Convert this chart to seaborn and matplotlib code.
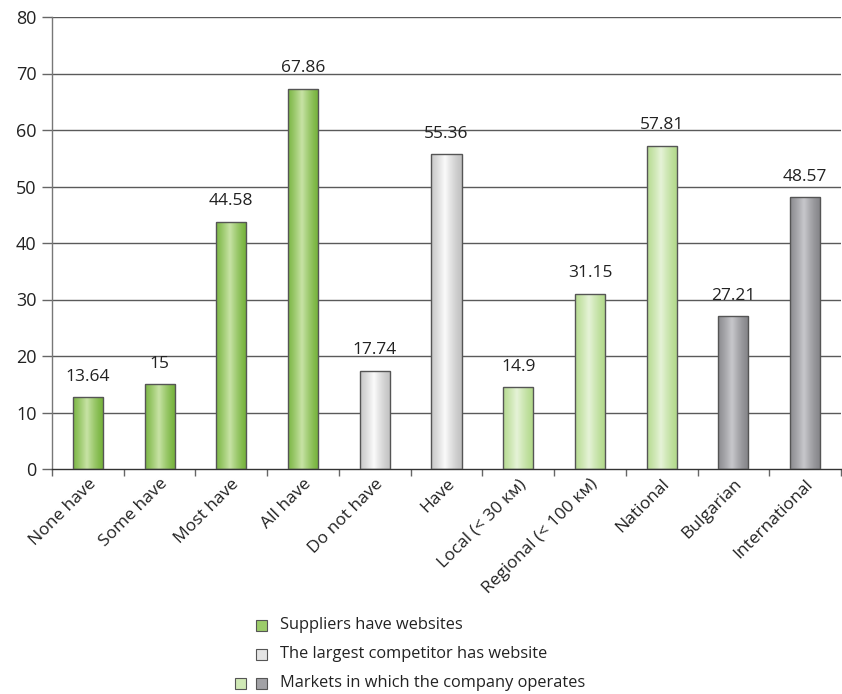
import matplotlib
matplotlib.use('Agg')
import matplotlib.pyplot as plt
from matplotlib.patches import Rectangle
import seaborn as sns
import pandas as pd
import numpy as np

categories = ['None have', 'Some have', 'Most have', 'All have', 'Do not have', 'Have',
              'Local (< 30 км)', 'Regional (< 100 км)', 'National', 'Bulgarian', 'International']
# bar heights as drawn in the picture
bar_values = [12.7, 15.0, 43.8, 67.3, 17.4, 55.75, 14.5, 31.0, 57.2, 27.0, 48.1]
# value labels printed over the bars
value_labels = ['13.64', '15', '44.58', '67.86', '17.74', '55.36', '14.9', '31.15', '57.81', '27.21', '48.57']
groups = ['suppliers'] * 4 + ['competitor'] * 2 + ['market_local'] * 3 + ['market_foreign'] * 2
legend_labels = ['Suppliers have websites', 'The largest competitor has website',
                 'Markets in which the company operates']

df = pd.DataFrame({'category': categories, 'value': bar_values, 'group': groups})

# (edge colour, highlight colour) for the cylinder-like gradient
grad = {
    'suppliers': ('#74b23a', '#c8e3a6'),
    'competitor': ('#c2c2c2', '#fbfbfb'),
    'market_local': ('#b2d98a', '#e6f3d8'),
    'market_foreign': ('#848488', '#c8c8cc'),
}
flat = {
    'suppliers': '#9ccc6a',
    'competitor': '#e4e4e4',
    'market_local': '#d0e9b6',
    'market_foreign': '#a2a2a6',
}

sns.set_style('white')
plt.rcParams['font.family'] = ['Open Sans', 'DejaVu Sans']

fig = plt.figure(figsize=(8.42, 6.94), dpi=100)
ax = fig.add_axes([52 / 842, 1 - 469 / 694, (841 - 52) / 842, (469 - 17) / 694])

sns.barplot(data=df, x='category', y='value', hue='group', dodge=False, width=0.42,
            palette=flat, edgecolor='#555555', linewidth=1, legend=False, ax=ax, zorder=3)


def gradient_row(c_edge, c_mid, n=64):
    e = np.array(matplotlib.colors.to_rgb(c_edge))
    m = np.array(matplotlib.colors.to_rgb(c_mid))
    t = np.linspace(0, 1, n)
    w = np.clip(1 - np.abs(t - 0.45) / 0.55, 0, 1) ** 1.3
    return (e[None, :] * (1 - w[:, None]) + m[None, :] * w[:, None])[None, :, :]


for p in list(ax.patches):
    x0, y0 = p.get_x(), p.get_y()
    w, h = p.get_width(), p.get_height()
    if h <= 0:
        continue
    idx = int(round(x0 + w / 2))
    g = groups[idx]
    img = ax.imshow(gradient_row(*grad[g]), extent=[x0, x0 + w, y0, y0 + h],
                    aspect='auto', zorder=2.5, interpolation='bicubic')
    img.set_clip_path(p)
    p.set_facecolor('none')
    ax.annotate(value_labels[idx], (x0 + w / 2, y0 + h), xytext=(0, 9),
                textcoords='offset points', ha='center', va='bottom',
                fontsize=12.5, color='#222222', zorder=4)

ax.set_xlim(-0.5, len(categories) - 0.5)
ax.set_ylim(0, 80)
ax.set_yticks(np.arange(0, 81, 10))
ax.set_xlabel('')
ax.set_ylabel('')

for yv in np.arange(10, 81, 10):
    ax.axhline(yv, color='#5a5a5a', lw=1, zorder=1)

ax.set_xticks(range(len(categories)))
ax.set_xticklabels(categories, rotation=45, ha='right', rotation_mode='anchor')
ax.set_xticks(np.arange(-0.5, len(categories), 1), minor=True)
ax.tick_params(axis='x', which='major', length=0, pad=5, labelsize=12.5, labelcolor='#222222')
ax.tick_params(axis='x', which='minor', length=5, width=1, color='#666666', direction='out', bottom=True)
ax.tick_params(axis='y', length=7, width=1, color='#666666', direction='out', left=True,
               labelsize=13, labelcolor='#222222', pad=4)

sns.despine(ax=ax, top=True, right=True)
ax.spines['left'].set_color('#777777')
ax.spines['bottom'].set_color('#333333')
ax.spines['left'].set_linewidth(1)
ax.spines['bottom'].set_linewidth(1)

# legend drawn by hand, last row carries two swatches
rows_y = [625, 654, 683]
sw = 11
swatches = [[('suppliers', 256)], [('competitor', 256)],
            [('market_local', 235), ('market_foreign', 256)]]
for label, yy, sws in zip(legend_labels, rows_y, swatches):
    for g, xx in sws:
        fig.patches.append(Rectangle((xx / 842, 1 - (yy + sw / 2) / 694), sw / 842, sw / 694,
                                     transform=fig.transFigure, facecolor=flat[g],
                                     edgecolor='#555555', lw=0.8))
    fig.text(280 / 842, 1 - yy / 694, label, ha='left', va='center',
             fontsize=11.8, color='#222222')

fig.savefig('out.png', dpi=100)
